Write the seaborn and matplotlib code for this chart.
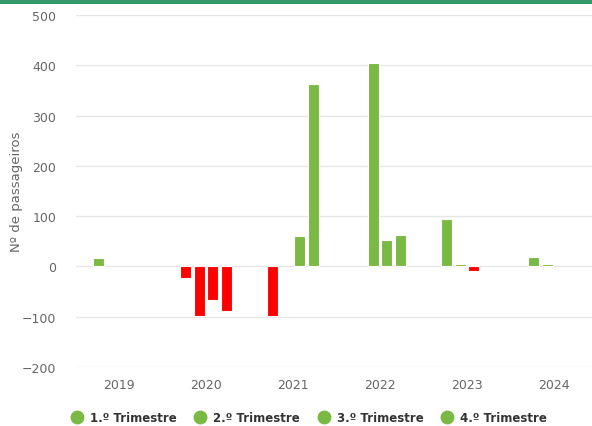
import numpy as np
import pandas as pd
import seaborn as sns
import matplotlib.pyplot as plt
from matplotlib.lines import Line2D
from matplotlib.patches import Rectangle

# dados: variação por trimestre (NaN = sem barra)
anos = ['2019', '2020', '2021', '2022', '2023', '2024']
trimestres = ['1.º Trimestre', '2.º Trimestre', '3.º Trimestre', '4.º Trimestre']
t1 = [16, -24, -98, np.nan, 95, 18]
t2 = [np.nan, -98, np.nan, 404, 4, 4]
t3 = [np.nan, -66, 61, 52, -10, np.nan]
t4 = [np.nan, -89, 363, 63, np.nan, np.nan]

verde = '#7aba44'
vermelho = '#ff0000'

rows = []
for tri, vals in zip(trimestres, [t1, t2, t3, t4]):
    for ano, v in zip(anos, vals):
        rows.append({'ano': ano, 'trimestre': tri, 'valor': v})
df = pd.DataFrame(rows)

sns.set_style('white')
plt.rcParams['font.family'] = ['DejaVu Sans']

fig = plt.figure(figsize=(5.92, 4.27), dpi=100)
ax = fig.add_axes([75.5 / 592, 59 / 427, 522 / 592, 352 / 427])

sns.barplot(data=df, x='ano', y='valor', hue='trimestre', order=anos,
            hue_order=trimestres, palette=[verde] * 4, saturation=1,
            width=0.62, gap=0.2, edgecolor='white', linewidth=0.8,
            legend=False, ax=ax)

for p in ax.patches:
    if p.get_height() < 0:
        p.set_facecolor(vermelho)

ax.set_ylim(-200, 500)
ax.set_xlim(-0.5, 5.5)
ax.set_yticks(range(-200, 501, 100))
ax.yaxis.grid(True, color='#e6e6e6', linewidth=1)
ax.set_axisbelow(True)
for s in ax.spines.values():
    s.set_visible(False)
ax.tick_params(axis='both', length=0, colors='#666666', labelsize=9)
ax.tick_params(axis='y', pad=14)
ax.tick_params(axis='x', pad=8)
ax.set_xlabel('')
ax.set_ylabel('Nº de passageiros', color='#666666', fontsize=9.5)
ax.yaxis.set_label_coords(-52 / 522, 0.5)

handles = [Line2D([0], [0], marker='o', linestyle='', markersize=9,
                  markerfacecolor=verde, markeredgecolor=verde) for _ in trimestres]
fig.legend(handles, trimestres, loc='lower center', bbox_to_anchor=(0.522, -0.02),
           ncol=4, frameon=False, handletextpad=0.6, columnspacing=1.5,
           handlelength=1.0, prop={'size': 8.5, 'weight': 'bold'},
           labelcolor='#333333')

# faixa do título (cortada)
fig.patches.append(Rectangle((0, 1 - 5 / 427), 1, 5 / 427, transform=fig.transFigure,
                             facecolor='#339966', edgecolor='none'))

fig.savefig('out.png', dpi=100)
